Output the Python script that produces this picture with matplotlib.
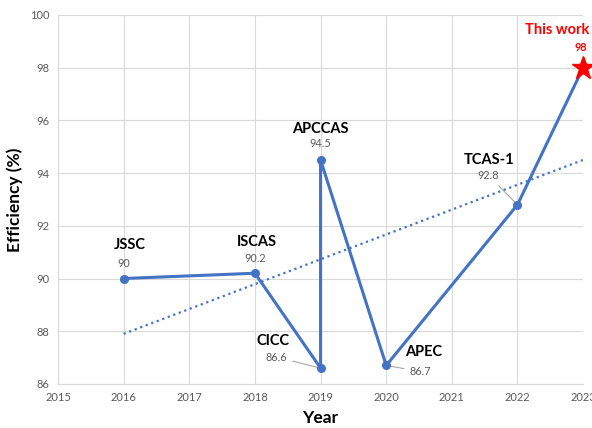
import matplotlib
matplotlib.use("Agg")
import matplotlib.pyplot as plt

plt.rcParams['font.family'] = ['Lato', 'DejaVu Sans']

# data
years = [2016, 2018, 2019, 2019, 2020, 2022]
eff = [90, 90.2, 86.6, 94.5, 86.7, 92.8]
venues = ['JSSC', 'ISCAS', 'CICC', 'APCCAS', 'APEC', 'TCAS-1']
this_year = 2023
this_eff = 98
trend_x = [2016, 2023]
trend_y = [87.9, 94.5]

blue = '#4472C4'
grey = '#595959'

fig = plt.figure(figsize=(5.92, 4.28), dpi=100)
ax = fig.add_axes([0.098, 0.103, 0.887, 0.862])

ax.plot(years + [this_year], eff + [this_eff], color=blue, lw=2.2, zorder=3)
ax.plot(years, eff, 'o', color=blue, ms=5.5, zorder=4)
ax.plot(this_year, this_eff, '*', color='#FF0000', ms=17, zorder=5, clip_on=False)
ax.plot(trend_x, trend_y, ':', color=blue, lw=1.6, zorder=2)

# label offsets in pixels: (name dx, name dy, value dx, value dy, leader)
offs = [(6, 34, 0, 15, False), (2, 31, 0, 15, False), (-48, 27, -44, 11, True),
        (0, 31, 0, 16, False), (37, 13, 34, -6, True), (-28, 45, -29, 29, True)]
for x, y, name, (ndx, ndy, vdx, vdy, lead) in zip(years, eff, venues, offs):
    ax.annotate(name, (x, y), xytext=(ndx, ndy), textcoords='offset pixels',
                ha='center', va='center', fontsize=10.5, fontweight='bold', color='black')
    if lead:
        ax.annotate(f'{y:g}', (x, y), xytext=(vdx, vdy), textcoords='offset pixels',
                    ha='center', va='center', fontsize=7.8, color=grey,
                    arrowprops=dict(arrowstyle='-', color='#A6A6A6', lw=0.8,
                                    shrinkA=2, shrinkB=2))
    else:
        ax.annotate(f'{y:g}', (x, y), xytext=(vdx, vdy), textcoords='offset pixels',
                    ha='center', va='center', fontsize=7.8, color=grey)

ax.annotate('This work', (this_year, this_eff), xytext=(-58, 38), textcoords='offset pixels',
            ha='left', va='center', fontsize=10.5, fontweight='bold', color='#FF0000',
            annotation_clip=False)
ax.annotate(f'{this_eff}', (this_year, this_eff), xytext=(-2, 20), textcoords='offset pixels',
            ha='center', va='center', fontsize=7.8, fontweight='bold', color='#FF0000',
            annotation_clip=False)

ax.set_xlim(2015, 2023)
ax.set_ylim(86, 100)
ax.set_xticks(range(2015, 2024))
ax.set_yticks(range(86, 101, 2))
ax.grid(True, color='#D9D9D9', lw=0.8)
ax.set_axisbelow(True)
for s in ['top', 'right']:
    ax.spines[s].set_visible(False)
for s in ['left', 'bottom']:
    ax.spines[s].set_color('#D9D9D9')
ax.tick_params(length=0, colors=grey, labelsize=8, pad=6)

ax.set_xlabel('Year', fontsize=12.5, fontweight='bold', labelpad=5)
ax.set_ylabel('Efficiency (%)', fontsize=12.5, fontweight='bold', labelpad=5)

fig.savefig('out.png', dpi=100)
